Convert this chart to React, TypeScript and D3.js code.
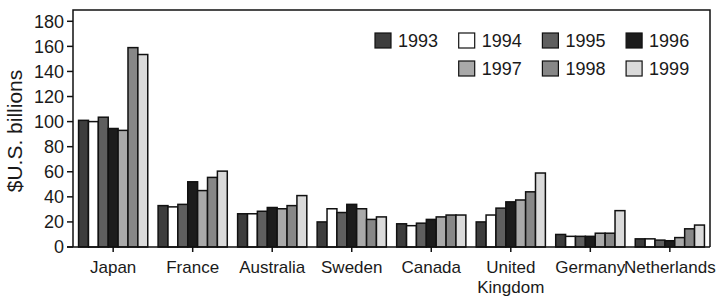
import React from 'react';
import * as d3 from 'd3';

const countries = ['Japan', 'France', 'Australia', 'Sweden', 'Canada', 'United Kingdom', 'Germany', 'Netherlands'];
const years = ['1993', '1994', '1995', '1996', '1997', '1998', '1999'];

// one array per country, 1993..1999
const japan = [101, 100, 103.5, 94.5, 93, 159, 153.5];
const france = [33, 32, 34, 52, 45, 55.5, 60.5];
const australia = [26.5, 26.5, 28.5, 31.5, 30.5, 33, 41];
const sweden = [20, 30.5, 27.5, 34, 30.5, 22, 24];
const canada = [18.5, 17, 19, 22, 24, 25.5, 25.5];
const uk = [20, 25.5, 31, 36, 37.5, 44, 59];
const germany = [10, 8.5, 8.5, 8.5, 11, 11, 29];
const netherlands = [6.5, 6.5, 5.5, 5, 7.5, 14.5, 17.5];

const values = [japan, france, australia, sweden, canada, uk, germany, netherlands];
const yTicks = [0, 20, 40, 60, 80, 100, 120, 140, 160, 180];

const fills = ['#3d3d3d', '#ffffff', '#5f5f5f', '#1c1c1c', '#a9a9a9', '#878787', '#dadada'];

const W = 720;
const H = 299;
const left = 73;
const right = 710;
const top = 10;
const bottom = 247;
const font = '"Liberation Sans", Arial, sans-serif';
const ink = '#1a1a1a';

export default function App() {
  const y = d3.scaleLinear().domain([0, 189]).range([bottom, top]);
  const x0 = d3.scaleBand<string>().domain(countries).range([left, right]).paddingInner(0.13).paddingOuter(0.07);
  const x1 = d3.scaleBand<string>().domain(years).range([0, x0.bandwidth()]).padding(0);
  const color = d3.scaleOrdinal<string, string>().domain(years).range(fills);

  // legend: first row 1993-1996, second row 1997-1999 shifted by one column
  const legendX = (i: number) => 375 + 83.7 * (i < 4 ? i : i - 3);
  const legendY = (i: number) => (i < 4 ? 33 : 61);

  return (
    <svg width={W} height={H} style={{ position: 'absolute', left: 0, top: 0, background: '#fff' }} fontFamily={font}>
      {countries.map((c, ci) => (
        <g key={c} transform={`translate(${x0(c)},0)`}>
          {years.map((yr, yi) => (
            <rect
              key={yr}
              x={x1(yr)}
              y={y(values[ci][yi])}
              width={x1.bandwidth()}
              height={bottom - y(values[ci][yi])}
              fill={color(yr)}
              stroke="#111"
              strokeWidth={1.5}
            />
          ))}
        </g>
      ))}

      {/* frame */}
      <path d={`M${left},${bottom}V${top}H${right}V${bottom}`} fill="none" stroke="#111" strokeWidth={1.5} />
      <line x1={left - 6} x2={right} y1={bottom} y2={bottom} stroke="#111" strokeWidth={1.5} />

      {/* y axis */}
      {yTicks.map(t => (
        <g key={t}>
          <line x1={left - 6} x2={left} y1={y(t)} y2={y(t)} stroke="#111" strokeWidth={1.5} />
          <text x={left - 9} y={y(t)} dy="0.35em" textAnchor="end" fontSize={18} fill={ink}>{t}</text>
        </g>
      ))}
      <text transform={`translate(22,131) rotate(-90)`} textAnchor="middle" fontSize={21} fill={ink}>$U.S. billions</text>

      {/* x axis */}
      {countries.map(c => {
        const cx = (x0(c) as number) + x0.bandwidth() / 2;
        const lines = c === 'United Kingdom' ? ['United', 'Kingdom'] : [c];
        return (
          <g key={c}>
            <line x1={cx} x2={cx} y1={bottom} y2={bottom + 5} stroke="#111" strokeWidth={1.5} />
            {lines.map((l, li) => (
              <text key={l} x={cx} y={273 + li * 20} textAnchor="middle" fontSize={17} fill={ink}>{l}</text>
            ))}
          </g>
        );
      })}

      {/* legend */}
      {years.map((yr, i) => (
        <g key={yr} transform={`translate(${legendX(i)},${legendY(i)})`}>
          <rect x={0} y={0} width={16} height={15} fill={color(yr)} stroke="#111" strokeWidth={1.2} />
          <text x={23} y={14} fontSize={18} fill={ink}>{yr}</text>
        </g>
      ))}
    </svg>
  );
}
